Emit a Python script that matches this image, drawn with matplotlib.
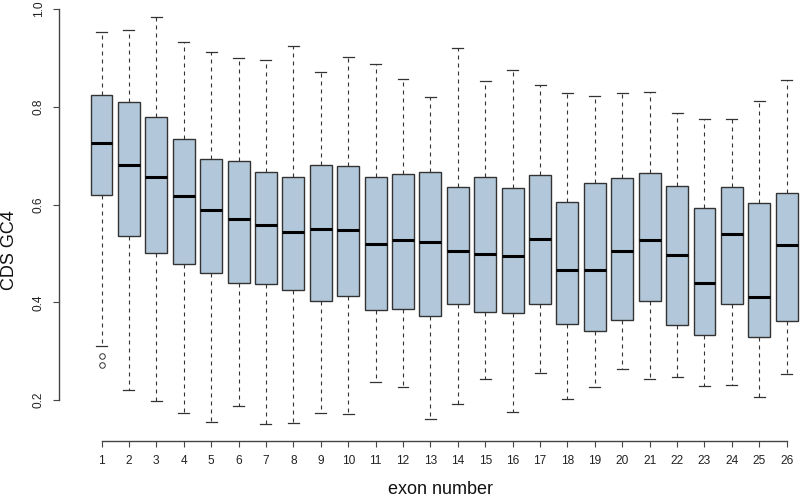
import matplotlib
matplotlib.use("Agg")
import matplotlib.pyplot as plt

plt.rcParams['font.family'] = ['Liberation Sans', 'DejaVu Sans']

exons = list(range(1, 27))
whislo = [0.310, 0.220, 0.198, 0.173, 0.156, 0.188, 0.150, 0.153, 0.173, 0.171,
          0.236, 0.227, 0.162, 0.192, 0.243, 0.176, 0.256, 0.202, 0.227, 0.263,
          0.242, 0.248, 0.229, 0.230, 0.206, 0.253]
q1 = [0.619, 0.536, 0.500, 0.478, 0.461, 0.440, 0.437, 0.425, 0.403, 0.413,
      0.385, 0.386, 0.371, 0.397, 0.381, 0.378, 0.397, 0.356, 0.341, 0.364,
      0.402, 0.353, 0.334, 0.396, 0.330, 0.361]
med = [0.727, 0.681, 0.656, 0.617, 0.588, 0.571, 0.558, 0.543, 0.550, 0.547,
       0.519, 0.528, 0.523, 0.504, 0.498, 0.495, 0.530, 0.466, 0.466, 0.505,
       0.528, 0.496, 0.439, 0.540, 0.411, 0.517]
q3 = [0.824, 0.809, 0.780, 0.734, 0.694, 0.689, 0.667, 0.657, 0.682, 0.680,
      0.657, 0.663, 0.667, 0.637, 0.656, 0.633, 0.660, 0.605, 0.644, 0.655,
      0.664, 0.638, 0.594, 0.635, 0.603, 0.624]
whishi = [0.954, 0.957, 0.985, 0.933, 0.912, 0.901, 0.897, 0.924, 0.872, 0.903,
          0.888, 0.858, 0.821, 0.921, 0.854, 0.876, 0.844, 0.829, 0.822, 0.828,
          0.830, 0.788, 0.775, 0.775, 0.813, 0.855]
outliers = {1: [0.290, 0.271]}

yticks = [0.2, 0.4, 0.6, 0.8, 1.0]
ylabel = "CDS GC4"
xlabel = "exon number"

W, H = 800, 497
fig = plt.figure(figsize=(W / 100, H / 100), dpi=100)
left_px, right_px, bottom_px, top_px = 59.3, 800, 441, 0
ax = fig.add_axes([left_px / W, 1 - bottom_px / H,
                   (right_px - left_px) / W, (bottom_px - top_px) / H])

stats = []
for i, e in enumerate(exons):
    stats.append(dict(med=med[i], q1=q1[i], q3=q3[i], whislo=whislo[i],
                      whishi=whishi[i], fliers=outliers.get(e, [])))

edge = '#333333'
ax.bxp(stats, positions=exons, widths=0.8, patch_artist=True,
       boxprops=dict(facecolor='#B2C7DA', edgecolor=edge, linewidth=1.0),
       medianprops=dict(color='black', linewidth=2.2, solid_capstyle='butt'),
       whiskerprops=dict(color=edge, linewidth=0.8, linestyle=(0, (3.6, 3.6))),
       capprops=dict(color=edge, linewidth=0.9),
       flierprops=dict(marker='o', markerfacecolor='none', markeredgecolor=edge,
                       markersize=4, markeredgewidth=0.7, linestyle='none'))

ax.set_xlim(-0.54, 26.485)
ax.set_ylim(0.1161, 1.0188)

for s in ['top', 'right']:
    ax.spines[s].set_visible(False)
ax.spines['left'].set_bounds(0.2, 1.0)
ax.spines['bottom'].set_bounds(1, 26)
for s in ['left', 'bottom']:
    ax.spines[s].set_color('#444444')
    ax.spines[s].set_linewidth(1.0)

ax.set_xticks(exons)
ax.set_xticklabels([str(e) for e in exons])
ax.set_yticks(yticks)
ax.set_yticklabels([f"{v:.1f}" for v in yticks])
ax.tick_params(axis='both', direction='out', length=4.3, width=0.8,
               color='#444444', labelsize=8.6, labelcolor='#222222')
ax.tick_params(axis='x', pad=6)
ax.tick_params(axis='y', pad=6, labelrotation=90)
for lbl in ax.get_yticklabels():
    lbl.set_va('center')

fig.text(10 / W, 1 - 250 / H, ylabel, rotation=90, ha='center', va='center',
         fontsize=13, color='#111111')
fig.text(440 / W, 1 - 489 / H, xlabel, ha='center', va='center',
         fontsize=13, color='#111111')

fig.savefig('out.png', dpi=100, facecolor='white')
